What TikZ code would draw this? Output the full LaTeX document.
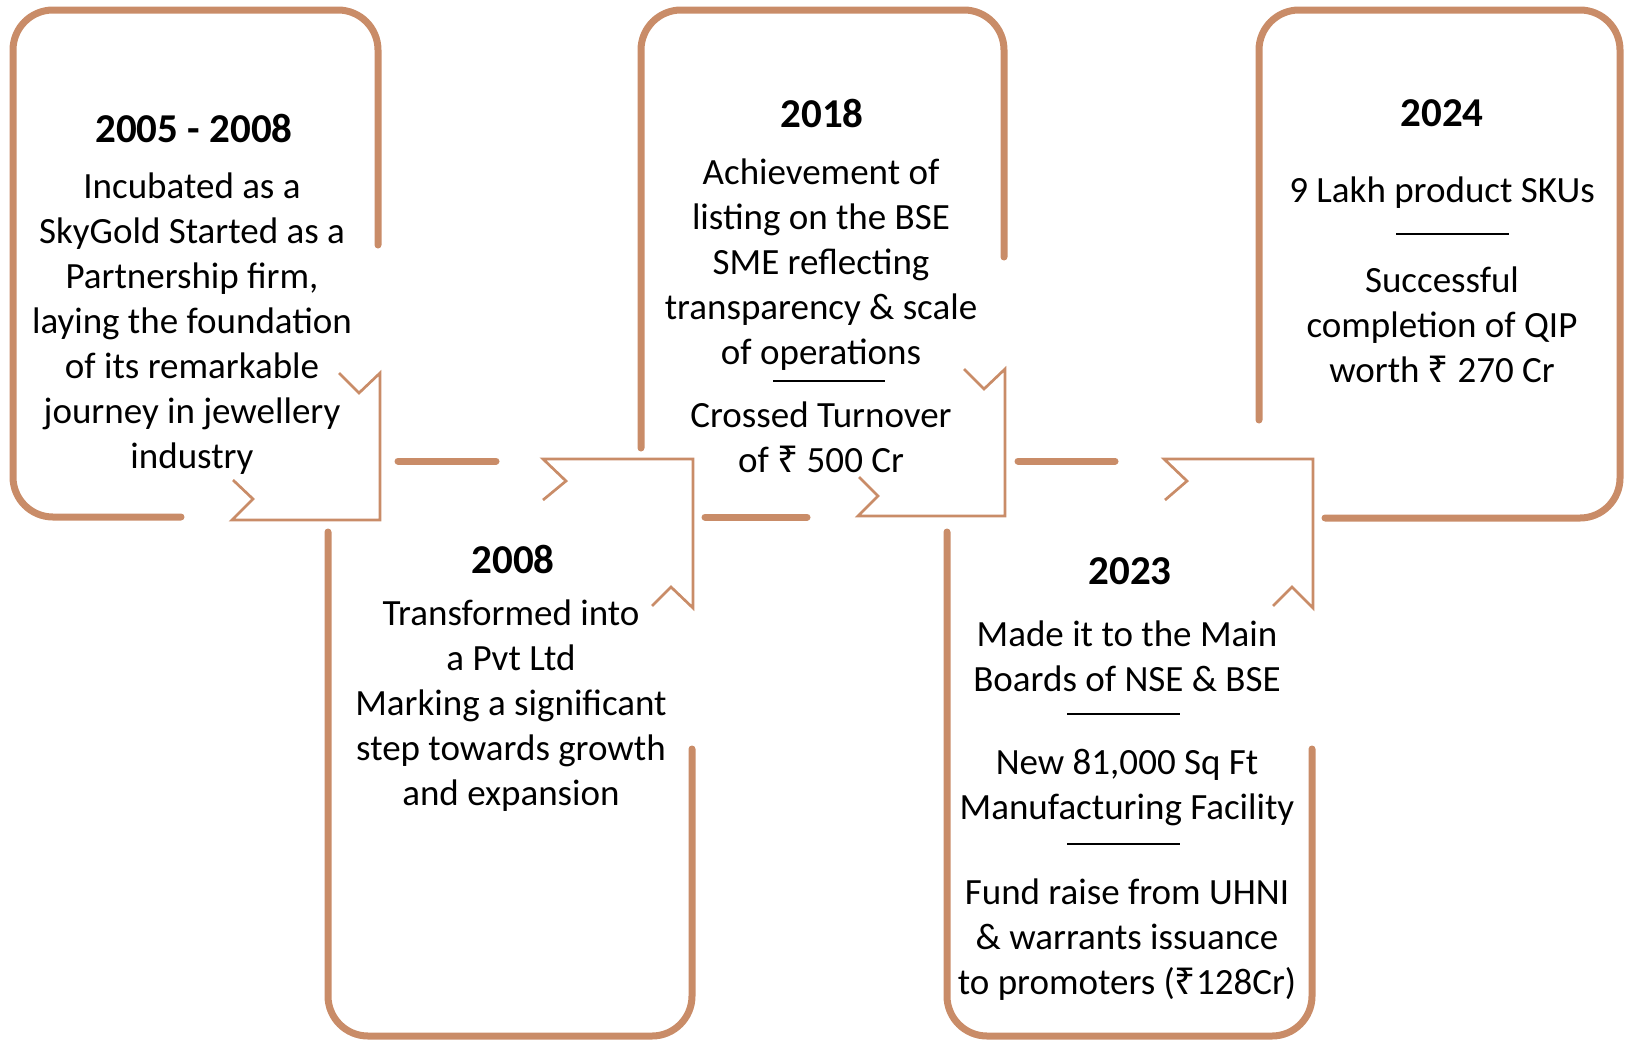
\documentclass[tikz,border=0pt]{standalone}
\usepackage{fontspec}
\setmainfont{Carlito}
\newfontfamily\rupeefont{Noto Sans}
\usepackage{tikz}
\usetikzlibrary{positioning}
\definecolor{copper}{RGB}{201,140,104}
\newcommand{\rs}{{\rupeefont ₹}}

\begin{document}
\begin{tikzpicture}[x=0.5pt,y=-0.5pt,
    frame/.style={draw=copper,line width=3.5pt,line cap=round,rounded corners=20pt},
    ribbon/.style={draw=copper,line width=1.35pt,line join=miter},
    link/.style={draw=copper,line width=3.5pt,line cap=round},
    yearlabel/.style={inner sep=0pt,font=\fontsize{20.5}{24}\selectfont\bfseries},
    bodytext/.style={inner sep=0pt,align=center,font=\fontsize{18.5}{22.5}\selectfont},
    sep/.style={draw=black,line width=1pt}]
  \useasboundingbox (0,0) rectangle (1626,1044);

  % Open frames
  \draw[frame] (378,245) -- (378,10) -- (13,10) -- (13,517) -- (181,517);
  \draw[frame] (328,532) -- (328,1036) -- (692,1036) -- (692,749);
  \draw[frame] (641,448) -- (641,10) -- (1004,10) -- (1004,257);
  \draw[frame] (947,532) -- (947,1036) -- (1312,1036) -- (1312,749);
  \draw[frame] (1259,420) -- (1259,10) -- (1620,10) -- (1620,518) -- (1325,518);

  % Ribbon ends
  \draw[ribbon] (339,373) -- (359,393) -- (380,373) -- (380,520) -- (232,520) -- (253,499) -- (233,480);
  \draw[ribbon] (543,500) -- (566,481) -- (543,459) -- (693,459) -- (693,608) -- (671,587) -- (652,606);
  \draw[ribbon] (964,369) -- (984,389) -- (1005,369) -- (1005,516) -- (858,516) -- (878,496) -- (859,477);
  \draw[ribbon] (1165,500) -- (1187,481) -- (1164,459) -- (1313,459) -- (1313,608) -- (1292,587) -- (1273,606);

  % Links
  \draw[link] (398,461) -- (496,461);
  \draw[link] (705,517) -- (807,517);
  \draw[link] (1018,461) -- (1115,461);

  % 2005 - 2008
  \node[yearlabel] (yearA) at (194,128) {2005 - 2008};
  \node[bodytext] (textA) at (192,324) {Incubated as a\\SkyGold Started as a\\Partnership firm,\\laying the foundation\\of its remarkable\\journey in jewellery\\industry};

  % 2008
  \node[yearlabel] (yearB) at (513,559) {2008};
  \node[bodytext] (textB) at (511,706) {Transformed into\\a Pvt Ltd\\Marking a significant\\step towards growth\\and expansion};

  % 2018
  \node[yearlabel] (yearC) at (822,113) {2018};
  \node[bodytext] (textC) at (821,265) {Achievement of\\listing on the BSE\\SME reflecting\\transparency \& scale\\of operations};
  \draw[sep] (773,381) -- (885,381);
  \node[bodytext] (textD) at (821,437) {Crossed Turnover\\of \rs{} 500 Cr};

  % 2023
  \node[yearlabel] (yearE) at (1130,571) {2023};
  \node[bodytext] (textE) at (1127,656) {Made it to the Main\\Boards of NSE \& BSE};
  \draw[sep] (1067,714) -- (1180,714);
  \node[bodytext] (textF) at (1127,788) {New 81,000 Sq Ft\\Manufacturing Facility};
  \draw[sep] (1067,844) -- (1180,844);
  \node[bodytext] (textG) at (1127,940) {Fund raise from UHNI\\\& warrants issuance\\to promoters (\rs128Cr)};

  % 2024
  \node[yearlabel] (yearH) at (1442,113) {2024};
  \node[bodytext] (textH) at (1442,193) {9 Lakh product SKUs};
  \draw[sep] (1396,234) -- (1509,234);
  \node[bodytext] (textI) at (1442,325) {Successful\\completion of QIP\\worth \rs{} 270 Cr};
\end{tikzpicture}
\end{document}
